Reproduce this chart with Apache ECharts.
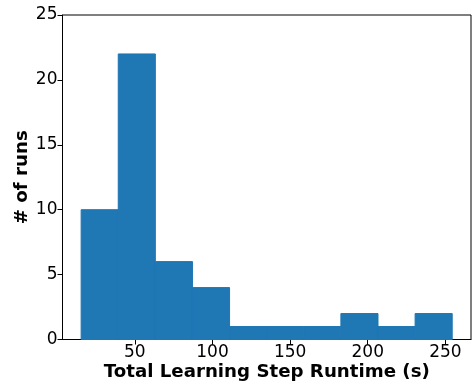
<!DOCTYPE html>
<html><head><meta charset="utf-8">
<script src="https://cdn.jsdelivr.net/npm/echarts@6/dist/echarts.min.js"></script>
<style>html,body{margin:0;padding:0;background:#fff}#c{width:473px;height:386px}</style>
</head><body><div id="c"></div>
<script>
const binEdges = [15.4, 39.3, 63.2, 87.1, 111.0, 134.9, 158.8, 182.7, 206.6, 230.5, 254.4];
const counts = [10, 22, 6, 4, 1, 1, 1, 2, 1, 2];
const xTicks = [50, 100, 150, 200, 250];
const yTicks = [0, 5, 10, 15, 20, 25];
const xTitle = 'Total Learning Step Runtime (s)';
const yTitle = '# of runs';

const data = counts.map((c, i) => [binEdges[i], binEdges[i + 1], c]);
const chart = echarts.init(document.getElementById('c'), null, {renderer: 'canvas'});
const font = 'DejaVu Sans';
chart.setOption({
  animation: false,
  grid: {left: 62.5, top: 15, right: 2, bottom: 46.5, outerBoundsMode: 'none', containLabel: false, show: true, borderColor: '#000', borderWidth: 1, backgroundColor: 'transparent'},
  xAxis: {
    type: 'value', min: 3.4, max: 266.5,
    name: xTitle, nameLocation: 'middle', nameGap: 24, nameMoveOverlap: false,
    nameTextStyle: {fontFamily: font, fontSize: 18.2, fontWeight: 'bold', color: '#000'},
    axisLine: {show: true, onZero: false, lineStyle: {color: '#000', width: 1}},
    axisTick: {show: true, length: 5, customValues: xTicks, lineStyle: {color: '#000'}},
    axisLabel: {customValues: xTicks, fontFamily: font, fontSize: 17, color: '#000', margin: 5},
    splitLine: {show: false}
  },
  yAxis: {
    type: 'value', min: 0, max: 25, interval: 5,
    name: yTitle, nameLocation: 'middle', nameGap: 31, nameRotate: 90, nameMoveOverlap: false,
    nameTextStyle: {fontFamily: font, fontSize: 18.2, fontWeight: 'bold', color: '#000'},
    axisLine: {show: true, lineStyle: {color: '#000', width: 1}},
    axisTick: {show: true, length: 5, lineStyle: {color: '#000'}},
    axisLabel: {fontFamily: font, fontSize: 17, color: '#000', margin: 5},
    splitLine: {show: false}
  },
  series: [{
    type: 'custom',
    data: data,
    encode: {x: [0, 1], y: 2},
    renderItem: function (params, api) {
      const p0 = api.coord([api.value(0), 0]);
      const p1 = api.coord([api.value(1), api.value(2)]);
      return {
        type: 'rect',
        shape: {x: p0[0], y: p1[1], width: p1[0] - p0[0], height: p0[1] - p1[1]},
        style: {fill: '#1f77b4', stroke: '#1f77b4', lineWidth: 1}
      };
    }
  }]
});
</script></body></html>
